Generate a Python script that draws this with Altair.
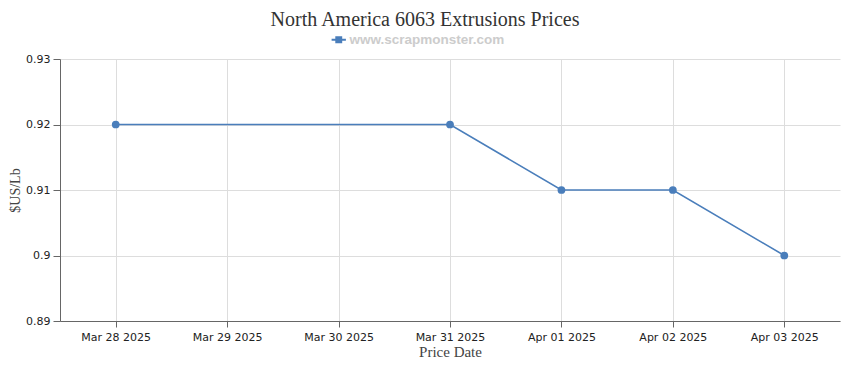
import altair as alt
import pandas as pd

all_dates = ["Mar 28 2025", "Mar 29 2025", "Mar 30 2025", "Mar 31 2025",
             "Apr 01 2025", "Apr 02 2025", "Apr 03 2025"]
dates = ["Mar 28 2025", "Mar 31 2025", "Apr 01 2025", "Apr 02 2025", "Apr 03 2025"]
prices = [0.92, 0.92, 0.91, 0.91, 0.90]
series = "www.scrapmonster.com"

df = pd.DataFrame({"date": dates, "price": prices, "series": [series] * len(dates)})

color = "#4a7ebb"

x = alt.X("date:O", scale=alt.Scale(type="point", domain=all_dates, padding=0.5),
          sort=all_dates,
          axis=alt.Axis(title="Price Date", labelAngle=0, grid=True, tickSize=6,
                        titleFontSize=15))
y = alt.Y("price:Q", scale=alt.Scale(domain=[0.89, 0.93], nice=False, zero=False),
          axis=alt.Axis(title="$US/Lb", values=[0.89, 0.9, 0.91, 0.92, 0.93],
                        format="~g", grid=True, tickSize=7, titleFontSize=14))
c = alt.Color("series:N", scale=alt.Scale(range=[color]),
              legend=alt.Legend(title=None, orient="none", legendX=272, legendY=-26,
                                symbolType="M-1.6,0 L1.6,0 M-0.55,-0.55 L0.55,-0.55 L0.55,0.55 L-0.55,0.55 Z",
                                symbolStrokeColor=color, symbolFillColor=color,
                                symbolStrokeWidth=2, symbolSize=80,
                                labelColor="#cccccc", labelFontWeight="bold",
                                labelFontSize=13.5, labelFont="Liberation Sans"))

base = alt.Chart(df).encode(x=x, y=y, color=c)
line = base.mark_line(strokeWidth=1.6)
pts = base.mark_circle(size=60, opacity=1)

chart = (line + pts).properties(
    width=780, height=262,
    autosize="none",
    padding={"left": 52, "top": 51, "right": 2, "bottom": 41},
    title=alt.Title("North America 6063 Extrusions Prices", font="Liberation Serif",
                    fontSize=20, fontWeight="normal", color="#333333",
                    anchor="middle", dx=-25, offset=3),
).configure_view(stroke=None).configure_axis(
    labelFont="DejaVu Sans", labelFontSize=11, labelColor="#222222",
    titleFont="Liberation Serif", titleFontWeight="normal",
    titleColor="#444444", gridColor="#dddddd", domainColor="#666666",
    tickColor="#666666",
).configure_axisY(titlePadding=3, labelPadding=3).configure_axisX(titlePadding=2, labelPadding=4)

chart.save("out.html", embed_options={"renderer": "svg", "actions": False})
